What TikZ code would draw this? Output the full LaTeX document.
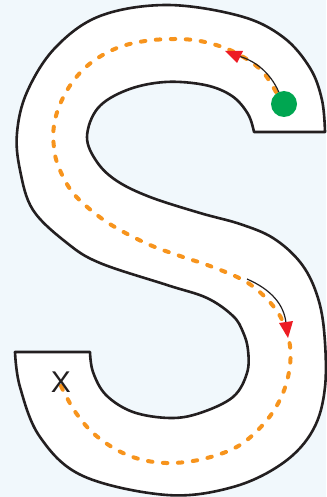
\documentclass[tikz,border=0pt]{standalone}
\usepackage{fontspec}
\setmainfont{Liberation Sans}
\definecolor{bgblue}{HTML}{F1F8FC}
\definecolor{roadline}{HTML}{231F20}
\definecolor{pathorange}{HTML}{F7941D}
\definecolor{tipred}{HTML}{ED1C24}
\definecolor{dotgreen}{HTML}{00A651}
\tikzset{
  road/.style={draw=roadline, line width=2.6pt, fill=white, line join=round},
  route/.style={draw=pathorange, line width=4pt, line cap=round, dash pattern=on 4.5pt off 10.5pt},
  pointer/.style={draw=roadline, line width=1.2pt},
  redtip/.style={fill=tipred, draw=none},
  startdot/.style={circle, fill=dotgreen, minimum size=26pt, inner sep=0pt},
  goal/.style={text=roadline, font=\fontsize{30}{31}\selectfont, inner sep=0pt}
}
\begin{document}
\begin{tikzpicture}[x=1pt,y=-1pt]
\useasboundingbox[fill=bgblue] (0,0) rectangle (326,497);
% road outline
\path[road] (325,132)
  -- plot[smooth, tension=0.6] coordinates {(325,132) (322,100) (310,68) (283,37) (240,16) (167,5) (100,16) (55,48) (27,92) (17,133) (20,170) (33,210) (67,243) (100,263) (167,285) (207,298) (233,316) (243,332) (248,350) (247,373) (233,397) (200,413) (170,418) (133,412) (106,395) (93,372) (90,352)}
  -- (15,352)
  -- plot[smooth, tension=0.6] coordinates {(15,352) (20,387) (40,437) (83,476) (167,495) (233,487) (283,463) (313,430) (325,387) (324,330) (316,292) (300,262) (273,238) (240,224) (200,213) (150,197) (117,181) (97,162) (87,137) (98,108) (127,90) (165,82) (205,85) (232,96) (248,114) (254,132)}
  -- cycle;
% dashed route
\draw[route] plot[smooth, tension=0.6] coordinates {(276,92) (263,72) (245,58) (225,48) (200,41) (175,39) (145,41) (117,48) (92,62) (74,80) (61,102) (54,125) (54,148) (59,168) (73,193) (97,215) (120,230) (150,245) (180,256) (210,266) (243,280) (264,296) (280,316) (289,340) (290,365) (283,393) (267,420) (240,445) (207,458) (173,463) (143,460) (117,450) (93,433) (76,413) (66,396) (61,386)};
% start and goal
\node[startdot] (start) at (284,104) {};
\node[goal] (finish) at (61,382) {X};
% pointers
\coordinate (tipA) at (238,56);
\coordinate (fromB) at (247,279);
\coordinate (tipB) at (286,323);
\draw[pointer] (start) .. controls (270,72) and (254,60) .. (tipA);
\draw[pointer] (fromB) .. controls (272,290) and (284,305) .. (tipB);
\fill[redtip] (225,51) -- (243,51) -- (237,63) -- cycle;
\fill[redtip] (279,323) -- (293,321) -- (288,338) -- cycle;
\end{tikzpicture}
\end{document}
